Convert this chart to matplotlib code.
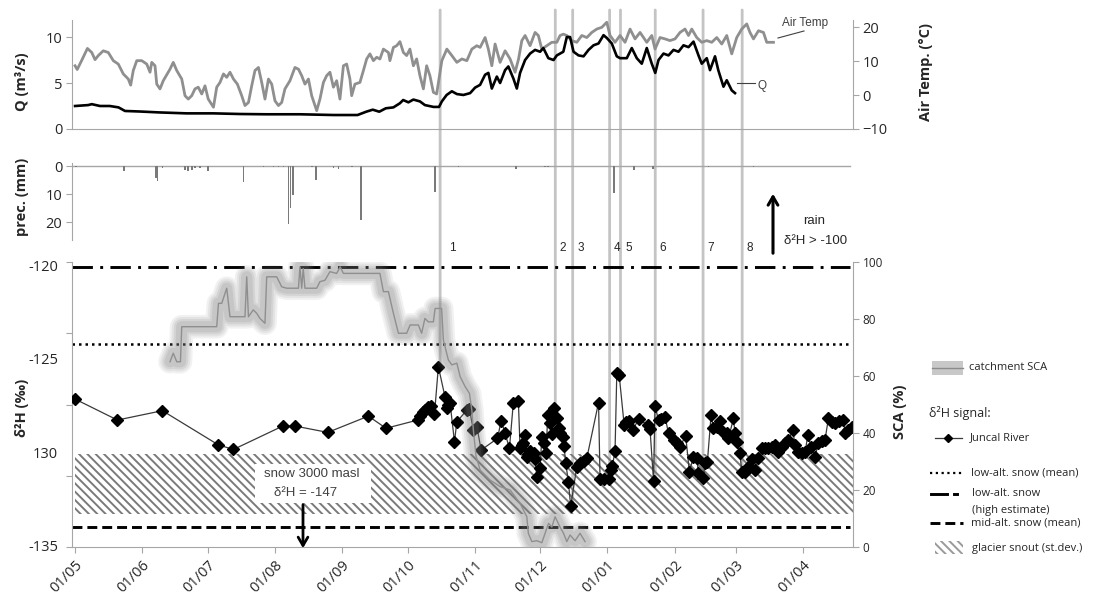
import numpy as np
import matplotlib
matplotlib.use('Agg')
import matplotlib.pyplot as plt
from matplotlib.patches import ConnectionPatch, Rectangle

plt.rcParams['font.family'] = ['Open Sans', 'DejaVu Sans']
plt.rcParams['hatch.linewidth'] = 1.4
plt.rcParams['hatch.color'] = '#808080'

# ---------------- data (days since 1 May) ----------------
month_ticks = [0, 31, 61, 92, 123, 153, 184, 214, 245, 276, 304, 335]
month_labels = ['01/05', '01/06', '01/07', '01/08', '01/09', '01/10',
                '01/11', '01/12', '01/01', '01/02', '01/03', '01/04']

temp_days = [0, 1, 3, 5.7, 7.7, 9.2, 10.7, 13, 15.3, 17.6, 19.9, 22.2, 24.5, 25.6, 26.8,
             28.4, 30.7, 33, 34.5, 35.3, 36.8, 37.6, 39.1, 40.6, 43.7, 45.2, 46.8, 49.1,
             50.6, 52.1, 53.7, 55.2, 56.7, 58.3, 59.8, 61.3, 63.7, 65.2, 66.7, 68.3, 69.8,
             71.3, 72.9, 74.7, 76.7, 78.2, 79.8, 81.3, 82.8, 84.4, 85.9, 87.4, 89, 90.5,
             92, 93.6, 95.1, 96.6, 98.9, 101.2, 102.8, 104.3, 105.8, 107.4, 108.9, 111.2,
             112.7, 114.3, 115.8, 117.3, 118.9, 120.4, 121.9, 123.5, 125, 126.5, 127.3,
             128.8, 131.1, 132.7, 134.2, 135.7, 137.3, 138.8, 140.3, 141.9, 144.2, 144.9,
             146.5, 148, 149.5, 151.1, 152.6, 154.1, 155.7, 157.2, 158.7, 160.3, 161.8,
             163.3, 164.9, 166.4, 168.8, 171.1, 173.4, 175.7, 178, 180.3, 182.6, 184.9,
             186.4, 188.7, 190.2, 191.8, 193.3, 195.6, 197.9, 200.2, 202.5, 204.1, 205.6,
             207.1, 209.4, 211.7, 213.2, 214.8, 217.1, 219.4, 221.7, 223.2, 224.7, 226.3,
             228.6, 230.9, 233.2, 235.5, 237.8, 240.1, 242.4, 244.7, 246.2, 248.5, 250.8,
             253.1, 255.4, 257.7, 260, 263.1, 265.4, 266.9, 269.2, 271.5, 273.8, 276.1,
             278.4, 280.7, 282.3, 283.8, 286.1, 288.4, 290.7, 293, 295.3, 297.6, 299.9,
             302.2, 304.5, 306.8, 309.1, 310.6, 312.2, 314.5, 316.8, 318.3, 321.4]
temp_vals = [8.6, 7.5, 10.1, 13.7, 12.5, 10.4, 11.6, 13.0, 12.5, 10.1, 9.1, 6.2, 4.7, 2.9, 7.2,
             10.1, 10.1, 9.1, 6.7, 9.6, 8.6, 3.2, 1.8, 4.2, 7.6, 9.6, 7.2, 4.7,
             -0.2, -1.2, -0.2, 1.8, 2.3, 0.3, 2.7, -1.2, -3.6, 2.3, 3.7, 6.2, 5.2,
             6.7, 4.7, 3.2, -0.2, -3.1, -2.2, 2.7, 7.2, 8.1, 3.7, -1.2, 4.7, 3.2,
             -1.7, -3.1, -2.2, 1.8, 4.2, 8.1, 7.6, 5.7, 3.2, 4.7, -0.2, -4.6,
             -1.2, 3.7, 5.7, 6.7, 2.3, 4.2, -1.2, 8.6, 9.1, 4.7, -0.2,
             3.2, 3.7, 7.2, 10.6, 12.1, 10.1, 11.1, 10.6, 13.5, 12.5, 10.1,
             14.0, 14.5, 15.7, 12.5, 11.6, 13.5, 8.6, 10.6, 5.7, 1.8, 8.6,
             5.7, 0.8, 0.3, 10.1, 13.5, 11.6, 9.6, 10.6, 10.1, 13.5, 14.5,
             14.0, 16.9, 13.5, 8.6, 15.0, 9.6, 13.0, 10.6, 6.7, 10.6, 16.0,
             17.5, 14.5, 18.4, 17.5, 13.5, 14.5, 15.5, 15.5, 17.5, 17.9, 17.5,
             16.0, 15.5, 17.5, 16.9, 18.4, 19.4, 19.9, 21.4, 17.5, 15.5, 17.5,
             15.5, 19.4, 16.5, 18.4, 15.5, 17.5, 13.5, 16.9, 16.5, 16.0, 16.5,
             18.4, 19.4, 17.5, 19.4, 16.9, 15.5, 16.0, 15.5, 16.9, 15.0, 17.5,
             12.1, 16.9, 19.4, 20.9, 18.4, 16.5, 18.9, 18.4, 15.5, 15.5]

q_days = [0, 6, 7.7, 11.5, 16, 20, 23, 30, 39, 51.4, 63.7, 76, 88, 103.5, 119, 130, 134,
          137, 140, 143, 146.5, 149.5, 151, 153.4, 155.7, 158.7, 161, 165, 167.5, 168.8,
          171, 173.4, 175.7, 178.7, 181.8, 184.1, 186.4, 188.7, 190.2, 191.8, 194.1,
          195.6, 197.9, 199.4, 201.7, 203.3, 204.8, 207.1, 209.4, 211.7, 214, 215.5,
          217.8, 220.2, 221.7, 224.7, 226.3, 227.8, 229.4, 231.7, 234, 236.3, 238.6,
          240.9, 243.2, 244.7, 247, 249.3, 250.8, 253.9, 256.2, 258.5, 260.8, 263.1,
          265.4, 267, 268.5, 270.8, 273.1, 275.4, 277.7, 280, 282.3, 284.6, 286.9,
          288.4, 290.7, 292.2, 294.5, 296, 298.4, 299.9, 302.2, 303.7]
q_vals = [2.5, 2.6, 2.7, 2.5, 2.5, 2.35, 1.96, 1.9, 1.8, 1.7, 1.7, 1.63, 1.6, 1.6, 1.52, 1.52,
          1.88, 2.1, 1.88, 2.25, 2.35, 2.8, 3.15, 2.9, 3.2, 3.0, 2.6, 2.4, 2.4, 3.0,
          3.7, 4.1, 3.8, 3.7, 3.9, 4.5, 4.8, 5.9, 6.1, 4.4, 5.7,
          5.0, 6.4, 6.8, 5.5, 4.4, 6.1, 7.5, 8.2, 8.6, 8.4, 8.8,
          7.7, 7.5, 8.0, 8.4, 10.0, 10.0, 8.4, 8.0, 7.9, 8.6, 9.1,
          9.3, 10.2, 9.9, 9.3, 7.9, 7.7, 7.7, 8.8, 7.7, 7.1, 8.8,
          7.1, 6.1, 7.5, 8.2, 8.0, 8.6, 8.4, 9.1, 8.9, 9.5, 8.0,
          7.1, 7.7, 6.4, 7.9, 6.4, 4.6, 5.3, 4.2, 3.9]

prec_days = [0.5, 22.6, 37.2, 38.0, 40.2, 50.6, 52.1, 53.7, 55.2, 57.5, 61.3, 77.5, 86.7,
             91.3, 93.6, 95.9, 98.2, 99.2, 100.2, 108.9, 110.9, 118.9, 121.2, 127.3, 131.5,
             165.7, 176.4, 203.0, 216.3, 217.8, 248.0, 257.2, 266.1, 291.5, 312.2]
prec_vals = [0.3, 1.7, 4.3, 5.5, 0.6, 1.5, 1.8, 1.5, 0.6, 0.8, 1.8, 5.8, 0.4,
             0.5, 0.5, 0.5, 20.7, 14.8, 10.4, 0.4, 5.0, 0.6, 1.2, 0.4, 19.3,
             9.2, 0.4, 1.0, 0.4, 0.4, 9.5, 1.4, 1.0, 0.3, 0.3]

sca_days = [43.7, 45.2, 46.8, 48.5, 49.1, 65.2, 66, 67.5, 69.8, 71.3, 78.2, 79, 79.8, 82, 83.6,
            85.1, 87.4, 88.2, 92.8, 95.1, 97.4, 102.8, 103.5, 104.3, 105, 105.8, 111.2,
            112.7, 115, 117.3, 120.4, 122, 123.5, 140.3, 141.9, 144.2, 146.5, 148.8, 152.6,
            154.2, 158, 159.5, 161, 162.6, 164.9, 165.7, 168.7, 169.5, 171.8, 173.4, 175.7,
            177.2, 179.5, 181.5, 182.6, 183.3, 184.5, 186.4, 191, 195.6, 200.2, 204.8,
            207.9, 208.6, 210.2, 212.5, 214.8, 216.3, 217.9, 219.4, 220.9, 223.2, 224.8,
            226.3, 227.8, 230.1, 232.4, 234.7]
sca_vals = [65, 68, 65, 65, 77.3, 77.3, 85.5, 85.5, 90.8, 80.8, 80.8, 94.8, 80.8, 83.2, 82,
            80.2, 78.5, 94.8, 94.8, 91.3, 90.8, 90.8, 98.3, 90.8, 97.7, 90.8, 90.8,
            93.1, 93.6, 96.6, 96, 98.3, 96, 96, 89.6, 89.6, 82, 75, 75,
            77.9, 77.9, 75, 80.2, 79, 79, 83.7, 83.7, 72.6, 65.6, 63.9, 64.5,
            59.8, 56.3, 53.9, 48, 41, 32, 27, 23.5, 21.2, 20, 15.3,
            10.6, 4.8, 1.9, 2.2, 1.5, 4.8, 8.3, 7, 10.6, 7, 4.8,
            1.9, 4.2, 2.2, 4.8, 1.9]

d2h_days = [0, 19.5, 40.2, 66, 72.9, 95.6, 101.2, 116.3, 135, 143.1, 157.7, 158.8, 160, 160.9,
            162.3, 163.9, 165.4, 167.2, 170.3, 171, 171.8, 172.6, 174.6, 175.7, 180.3, 181.5,
            183.3, 184.9, 186.9, 194.4, 196.1, 197.9, 199.9, 201.7, 204, 204.8, 205.6, 206.3,
            207.1, 207.9, 208.6, 209.4, 211, 211.7, 212.5, 214, 214.8, 216, 216.8, 217.5,
            218.6, 219.4, 220.6, 221.7, 222.5, 223.2, 224.4, 225, 225.8, 227, 228.1, 230.9,
            232.4, 234, 235.5, 240.9, 241.6, 243.2, 245.5, 246.5, 247.3, 248.5, 249.3, 250.4,
            252.7, 253.7, 254.7, 256.7, 259.3, 263.6, 264.6, 266.2, 266.9, 268.5, 269.5,
            271.5, 273.1, 275.4, 276.9, 278.4, 281, 282.7, 284.6, 286.1, 286.9, 288.9, 290,
            291, 292.7, 293.8, 295.3, 296.8, 298.4, 299.9, 300.7, 303, 303.7, 304.5, 306,
            306.8, 308.3, 309.9, 311.4, 312.9, 314.5, 316, 317.5, 319, 320.6, 322.1, 323.7,
            325.2, 326.7, 328.3, 330.3, 331.3, 332.9, 334.4, 336, 337.2, 338.7, 340.5, 342.1,
            343.6, 345.1, 346.7, 348.2, 349.7, 351.7, 353.6, 354.3, 355.9, 357.4]
d2h_vals = [-127.05, -128.17, -127.67, -129.5, -129.74, -128.49, -128.49, -128.83, -127.96,
            -128.61, -128.17, -127.94, -127.76, -127.64, -127.49, -127.4, -127.87, -125.32,
            -126.96, -127.55, -127.37, -127.28, -129.33, -128.26, -127.64, -127.6, -128.7,
            -128.53, -129.77, -129.15, -128.2, -128.88, -129.68, -127.24, -127.14, -129.68,
            -129.5, -129.41, -128.97, -130.13, -130.0, -129.8, -129.95, -130.27, -131.2,
            -130.75, -129.06, -129.41, -129.95, -127.9, -128.35, -128.92, -127.55, -128.08,
            -128.61, -128.88, -129.06, -129.56, -130.45, -131.46, -132.76, -130.66, -130.48,
            -130.34, -130.21, -127.24, -131.33, -131.33, -131.33, -130.84, -130.62, -129.8,
            -125.68, -125.77, -128.44, -128.3, -128.2, -128.7, -128.13, -128.44, -128.67,
            -131.41, -127.42, -128.17, -128.1, -127.99, -128.88, -129.24, -129.41, -129.59,
            -129.0, -130.93, -130.13, -130.2, -131.02, -131.29, -130.48, -130.39, -127.9,
            -128.61, -128.52, -128.2, -128.79, -128.85, -129.15, -128.08, -128.88, -129.33,
            -129.95, -130.93, -130.93, -130.66, -130.27, -130.84, -130.21, -129.68, -129.68,
            -129.68, -129.59, -129.5, -129.86, -129.6, -129.41, -129.24, -128.7, -129.5,
            -129.86, -129.95, -129.86, -128.97, -129.59, -130.13, -129.41, -129.3, -129.24,
            -128.08, -128.26, -128.35, -128.2, -128.17, -128.85, -128.7, -128.53]

event_days = [168, 221, 229, 246, 251, 267, 289, 307]
event_labels = ['1', '2', '3', '4', '5', '6', '7', '8']
event_d2h = [-125.4, -127.6, -132.7, -130.8, -125.8, -131.4, -131.3, -130.9]

low_alt_mean = -124.1
low_alt_high = -120.0
mid_alt_mean = -133.9
glacier_low, glacier_high = -133.2, -130.0

# ---------------- layout ----------------
W, H = 1094, 611
fig = plt.figure(figsize=(W / 100, H / 100), dpi=100)


def px_axes(x0, y0, x1, y1):
    return fig.add_axes([x0 / W, 1 - y1 / H, (x1 - x0) / W, (y1 - y0) / H])


GRAY = '#a6a6a6'
TXT = '#262626'
xmin, xmax = -1.4, 358.0
line_x = [-1.4, 356.6]
HATCH = '\\\\\\\\'

ax1 = px_axes(72, 20, 853, 129)
ax2 = px_axes(72, 163, 853, 240)
ax3 = px_axes(72, 262, 853, 547)
for ax in (ax1, ax2, ax3):
    ax.set_xlim(xmin, xmax)
    ax.patch.set_visible(False)
    for s in ax.spines.values():
        s.set_color(GRAY)
    ax.spines['top'].set_visible(False)
    ax.spines['right'].set_visible(False)
    ax.tick_params(axis='y', direction='out', length=4, color=GRAY,
                   labelsize=10.5, labelcolor=TXT, pad=3)

# --- top panel: Q and air temperature
ax1.set_ylim(0, 11.85)
ax1.set_yticks([0, 5, 10])
ax1.tick_params(axis='x', length=0, labelbottom=False)
ax1t = ax1.twinx()
ax1t.set_ylim(-10, 22.06)
ax1t.set_yticks([-10, 0, 10, 20])
ax1t.patch.set_visible(False)
for k in ('top', 'left', 'bottom'):
    ax1t.spines[k].set_visible(False)
ax1t.spines['right'].set_color(GRAY)
ax1t.tick_params(axis='y', direction='out', length=4, color=GRAY,
                 labelsize=10.5, labelcolor=TXT, pad=3)
ax1t.plot(temp_days, temp_vals, color='#8f8f8f', lw=2.0, zorder=2)
ax1.plot(q_days, q_vals, color='black', lw=1.9, zorder=3)
ax1.set_zorder(ax1t.get_zorder() + 1)

# --- precipitation panel
ax2.set_ylim(26.4, -1.1)
ax2.set_yticks([0, 10, 20])
ax2.spines['bottom'].set_visible(False)
ax2.tick_params(axis='x', length=0, labelbottom=False)
ax2.axhline(0, xmin=0, xmax=(356.6 - xmin) / (xmax - xmin), color=GRAY, lw=1)
ax2.bar(prec_days, prec_vals, width=0.8, color='#7a7a7a', zorder=3)

# --- isotope panel
ax3.set_ylim(-134.95, -119.73)
ax3.set_yticks(np.linspace(-134.95, -119.73, 5))
ax3.set_yticklabels([])
ax3.set_xticks(month_ticks)
ax3.set_xticklabels(month_labels, rotation=45, ha='right', va='top',
                    rotation_mode='anchor', fontsize=10.5, color=TXT)
ax3.tick_params(axis='x', direction='out', length=4, color=GRAY, pad=4)
for v, lab in zip([-120, -125, -130, -135], ['-120', '-125', '130', '-135']):
    ax3.text(-0.018, v, lab, transform=ax3.get_yaxis_transform(),
             ha='right', va='center', fontsize=10.5, color=TXT)

ax3.fill_between([0, xmax], glacier_low, glacier_high, facecolor='none',
                 edgecolor='#7a7a7a', hatch=HATCH, linewidth=0, zorder=1)
ax3.plot(line_x, [low_alt_high] * 2, color='black', lw=2.1, dashes=(7, 2.5, 1, 2.5), zorder=2)
ax3.plot(line_x, [low_alt_mean] * 2, color='black', lw=1.8, dashes=(1, 1.6), zorder=2)
ax3.plot(line_x, [mid_alt_mean] * 2, color='black', lw=2.1, dashes=(3.4, 1.7), zorder=2)
ax3.plot(d2h_days, d2h_vals, color='#3a3a3a', lw=0.9, marker='D', ms=6.3,
         mfc='black', mec='black', zorder=4)

ax3t = ax3.twinx()
ax3t.set_ylim(0, 100)
ax3t.set_yticks([0, 20, 40, 60, 80, 100])
ax3t.patch.set_visible(False)
for k in ('top', 'left', 'bottom'):
    ax3t.spines[k].set_visible(False)
ax3t.spines['right'].set_color(GRAY)
ax3t.tick_params(axis='y', direction='out', length=4, color=GRAY,
                 labelsize=8.5, labelcolor=TXT, pad=3)
for lw_, a_ in ((17, 0.10), (14, 0.12), (11, 0.14), (8, 0.16)):
    ax3t.plot(sca_days, sca_vals, color='#7f7f7f', lw=lw_, alpha=a_,
              solid_joinstyle='round', solid_capstyle='round', zorder=5)
ax3t.plot(sca_days, sca_vals, color='#8f8f8f', lw=1.0, zorder=6)

# --- event lines spanning all panels
for d, v in zip(event_days, event_d2h):
    cp = ConnectionPatch(xyA=(d, 12.94), coordsA=ax1.transData,
                         xyB=(d, v), coordsB=ax3.transData,
                         color='#c4c4c4', lw=2.0, zorder=-1)
    fig.add_artist(cp)

# ---------------- overlay (annotations, legend) ----------------
axo = fig.add_axes([0, 0, 1, 1])
axo.set_xlim(0, W)
axo.set_ylim(H, 0)
axo.axis('off')
axo.set_zorder(20)

LS = ['Liberation Sans', 'DejaVu Sans']
axo.text(22, 82, 'Q (m³/s)', rotation=90, ha='center', va='center',
         fontsize=10.5, fontweight='bold', color=TXT)
axo.text(22, 197, 'prec. (mm)', rotation=90, ha='center', va='center',
         fontsize=10.5, fontweight='bold', color=TXT)
axo.text(22, 408, 'δ²H (‰)', rotation=90, ha='center', va='center',
         fontsize=10.5, fontweight='bold', color=TXT)
axo.text(926, 72, 'Air Temp. (°C)', rotation=90, ha='center', va='center',
         fontsize=10.5, fontweight='bold', color=TXT)
axo.text(900, 412, 'SCA (%)', rotation=90, ha='center', va='center',
         fontsize=10.5, fontweight='bold', color=TXT)

axo.text(782, 23, 'Air Temp', ha='left', va='center', fontsize=8.5, color='#404040', family=LS)
axo.plot([778, 804], [38, 31], color='#404040', lw=0.8)
axo.text(758, 86, 'Q', ha='left', va='center', fontsize=8.5, color='#404040', family=LS)
axo.plot([737, 755], [83, 83], color='#404040', lw=0.8)

for x, lab in zip([452, 563, 581, 617, 629, 663, 711, 750], event_labels):
    axo.text(x, 248, lab, ha='center', va='center', fontsize=8.5, color=TXT, family=LS)

axo.annotate('', xy=(773, 191), xytext=(773, 256),
             arrowprops=dict(arrowstyle='->,head_width=0.35,head_length=0.6', lw=2.2, color='black'))
axo.text(814, 221, 'rain', ha='center', va='center', fontsize=9.5, color=TXT, family=LS)
axo.text(816, 241, 'δ²H > -100', ha='center', va='center', fontsize=9.5, color=TXT, family=LS)

axo.add_patch(Rectangle((255, 464), 116, 39, facecolor='white', edgecolor='none'))
axo.text(312, 474, 'snow 3000 masl', ha='center', va='center', fontsize=9.5, color='#404040', family=LS)
axo.text(306, 493, 'δ²H = -147', ha='center', va='center', fontsize=9.5, color='#404040', family=LS)
axo.annotate('', xy=(303, 551), xytext=(303, 502),
             arrowprops=dict(arrowstyle='->,head_width=0.35,head_length=0.6', lw=2.0, color='black'))

# legend
LF = 8
axo.add_patch(Rectangle((932, 361), 31, 14, facecolor='#c8c8c8', edgecolor='none'))
axo.plot([932, 963], [368, 368], color='#8c8c8c', lw=1)
axo.text(969, 368, 'catchment SCA', va='center', fontsize=LF, color=TXT)
axo.text(929, 413, 'δ²H signal:', va='center', fontsize=9, color=TXT)
axo.plot([935, 962], [438, 438], color='#3a3a3a', lw=0.9)
axo.plot([948], [438], marker='D', ms=4.5, color='black')
axo.text(970, 438, 'Juncal River', va='center', fontsize=LF, color=TXT)
axo.plot([930, 963], [473, 473], color='black', lw=1.6, dashes=(1, 1.6))
axo.text(971, 473, 'low-alt. snow (mean)', va='center', fontsize=LF, color=TXT)
axo.plot([931, 947], [494, 494], color='black', lw=2.1)
axo.plot([954, 956.5], [494, 494], color='black', lw=2.1)
axo.text(972, 494, 'low-alt. snow', va='center', fontsize=LF, color=TXT)
axo.text(972, 511, '(high estimate)', va='center', fontsize=LF, color=TXT)
axo.plot([930, 963], [523, 523], color='black', lw=2.1, dashes=(3.4, 1.7))
axo.text(971, 523, 'mid-alt. snow (mean)', va='center', fontsize=LF, color=TXT)
axo.add_patch(Rectangle((935, 541), 28, 13, facecolor='none', edgecolor='#9a9a9a',
                        hatch=HATCH, lw=0))
axo.text(972, 548, 'glacier snout (st.dev.)', va='center', fontsize=LF, color=TXT)

fig.savefig('out.png', dpi=100)
